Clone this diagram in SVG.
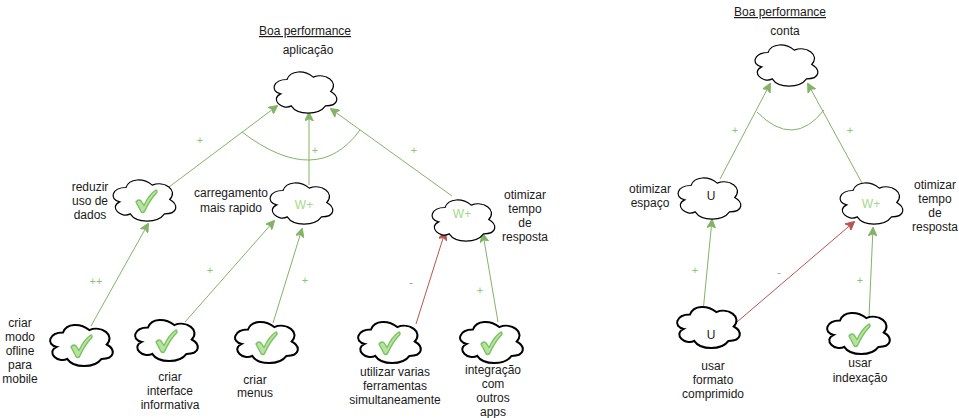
<svg xmlns="http://www.w3.org/2000/svg" width="959" height="418" viewBox="0 0 959 418">
<style>
text{font-family:"Liberation Sans",Arial,sans-serif;font-size:12px;fill:#1a1a1a;text-anchor:middle}
.cl{fill:#fff;stroke:#000;stroke-width:1.2}
.clb{fill:#fff;stroke:#000;stroke-width:2}
.ok{fill:#b5e3a0;stroke:#7cc160;stroke-width:1.4;stroke-linejoin:round}
.g{stroke:#82b366;stroke-width:1;fill:none}
.r{stroke:#b85450;stroke-width:1;fill:none}
.lbl{font-size:11px;fill:#8cc474}
.lm{font-size:11px;fill:#999}
.wp{fill:#a3d98a}
.ul{text-decoration:underline}
</style>
<defs>
<path id="cloud" d="M17.5,12 C3.5,12 0,24 11.2,26.4 C0,31.68 12.6,43.2 21.7,38.4 C28,48 49,48 56,38.4 C70,38.4 70,28.8 61.25,24 C70,14.4 56,4.8 43.75,9.6 C35,2.4 21,2.4 17.5,12 Z"/>
<path id="check" d="M-10,1 C-8,-1.5 -6,-1.5 -4.5,0.5 L-2,4.5 C1,-2 5,-8 10,-11 C11,-10.5 11.5,-9.5 10.5,-8 C5.5,-3 1.5,4 -1.5,10.5 C-2.5,12 -4,12 -5,10.5 Z"/>
<marker id="ag" viewBox="0 0 10 10" refX="9" refY="5" markerWidth="9" markerHeight="9" markerUnits="userSpaceOnUse" orient="auto">
<path d="M0,0 L10,5 L0,10 L2.5,5 Z" fill="#82b366" stroke="#82b366"/>
</marker>
<marker id="ar" viewBox="0 0 10 10" refX="9" refY="5" markerWidth="9" markerHeight="9" markerUnits="userSpaceOnUse" orient="auto">
<path d="M0,0 L10,5 L0,10 L2.5,5 Z" fill="#b85450" stroke="#b85450"/>
</marker>
</defs>

<g id="connectors">
<path class="g" d="M165,190 L277,106" marker-end="url(#ag)"/>
<path class="g" d="M309,185 L309,113" marker-end="url(#ag)"/>
<path class="g" d="M452,196 L331,109" marker-end="url(#ag)"/>
<path class="g" d="M91,326 L148,224" marker-end="url(#ag)"/>
<path class="g" d="M185,322 L274,221" marker-end="url(#ag)"/>
<path class="g" d="M273,323 L302,229" marker-end="url(#ag)"/>
<path class="r" d="M416,324 L445,232" marker-end="url(#ar)"/>
<path class="g" d="M498,322 L483,234" marker-end="url(#ag)"/>
<path class="g" d="M242,132 Q317,189 360,130"/>
<path class="g" d="M720,179 L770,84" marker-end="url(#ag)"/>
<path class="g" d="M862,183 L808,84" marker-end="url(#ag)"/>
<path class="g" d="M703,312 L712,220" marker-end="url(#ag)"/>
<path class="r" d="M737,322 L854,222" marker-end="url(#ar)"/>
<path class="g" d="M869,317 L873,228" marker-end="url(#ag)"/>
<path class="g" d="M757,112 Q793.5,149 824,110"/>
<text class="lbl" x="200" y="144">+</text>
<text class="lbl" x="315" y="154">+</text>
<text class="lbl" x="414" y="154">+</text>
<text class="lbl" x="96" y="285">++</text>
<text class="lbl" x="210" y="274">+</text>
<text class="lbl" x="305" y="284">+</text>
<text class="lm" x="411" y="286">-</text>
<text class="lbl" x="480" y="294">+</text>
<text class="lbl" x="735" y="134">+</text>
<text class="lbl" x="850" y="134">+</text>
<text class="lbl" x="695" y="274">+</text>
<text class="lm" x="779" y="276">-</text>
<text class="lbl" x="860" y="284">+</text>
</g>

<g id="title-app">
<text class="ul" x="305" y="35">Boa performance</text>
</g>
<g id="n-aplicacao">
<use href="#cloud" class="cl" x="269.5" y="67.5"/>
<text x="308" y="54">aplicação</text>
</g>
<g id="n-reduzir">
<use href="#cloud" class="cl" x="108.5" y="175.5"/>
<use href="#check" class="ok" x="146" y="201"/>
<text x="90" y="191">reduzir</text>
<text x="90" y="205">uso de</text>
<text x="90" y="219">dados</text>
</g>
<g id="n-carregamento">
<use href="#cloud" class="cl" x="265.5" y="178.5"/>
<text class="wp" x="304" y="209">W+</text>
<text x="231" y="197">carregamento</text>
<text x="231" y="212">mais rapido</text>
</g>
<g id="n-otimizar-tempo">
<use href="#cloud" class="cl" x="427.5" y="195.5"/>
<text class="wp" x="462" y="218">W+</text>
<text x="525" y="199">otimizar</text>
<text x="525" y="213">tempo</text>
<text x="525" y="227">de</text>
<text x="525" y="241">resposta</text>
</g>
<g id="n-offline">
<use href="#cloud" class="clb" x="45.5" y="320.5"/>
<use href="#check" class="ok" x="81" y="346"/>
<text x="20" y="327">criar</text>
<text x="20" y="341">modo</text>
<text x="20" y="355">ofline</text>
<text x="20" y="369">para</text>
<text x="20" y="383">mobile</text>
</g>
<g id="n-interface">
<use href="#cloud" class="clb" x="130.5" y="315.5"/>
<use href="#check" class="ok" x="166" y="341"/>
<text x="170" y="381">criar</text>
<text x="170" y="395">interface</text>
<text x="170" y="409">informativa</text>
</g>
<g id="n-menus">
<use href="#cloud" class="clb" x="230.5" y="317.5"/>
<use href="#check" class="ok" x="266" y="343"/>
<text x="255" y="384">criar</text>
<text x="255" y="397">menus</text>
</g>
<g id="n-ferramentas">
<use href="#cloud" class="clb" x="353.5" y="317.5"/>
<use href="#check" class="ok" x="389" y="343"/>
<text x="395" y="376">utilizar varias</text>
<text x="395" y="390">ferramentas</text>
<text x="395" y="404">simultaneamente</text>
</g>
<g id="n-integracao">
<use href="#cloud" class="clb" x="455.5" y="317.5"/>
<use href="#check" class="ok" x="491" y="343"/>
<text x="493" y="374">integração</text>
<text x="493" y="388">com</text>
<text x="493" y="402">outros</text>
<text x="493" y="416">apps</text>
</g>

<g id="title-conta">
<text class="ul" x="780" y="16">Boa performance</text>
</g>
<g id="n-conta">
<use href="#cloud" class="cl" x="750.5" y="40.5"/>
<text x="785" y="35">conta</text>
</g>
<g id="n-espaco">
<use href="#cloud" class="cl" x="673.5" y="173.5"/>
<text x="711" y="200">U</text>
<text x="650" y="193">otimizar</text>
<text x="650" y="207">espaço</text>
</g>
<g id="n-otimizar-tempo-2">
<use href="#cloud" class="cl" x="835.5" y="178.5"/>
<text class="wp" x="871" y="208">W+</text>
<text x="935" y="189">otimizar</text>
<text x="935" y="203">tempo</text>
<text x="935" y="217">de</text>
<text x="935" y="231">resposta</text>
</g>
<g id="n-comprimido">
<use href="#cloud" class="clb" x="672.5" y="302.5"/>
<text x="711" y="339">U</text>
<text x="713" y="370">usar</text>
<text x="713" y="384">formato</text>
<text x="713" y="398">comprimido</text>
</g>
<g id="n-indexacao">
<use href="#cloud" class="clb" x="822.5" y="308.5"/>
<use href="#check" class="ok" x="859" y="335"/>
<text x="860" y="367">usar</text>
<text x="860" y="382">indexação</text>
</g>
</svg>
